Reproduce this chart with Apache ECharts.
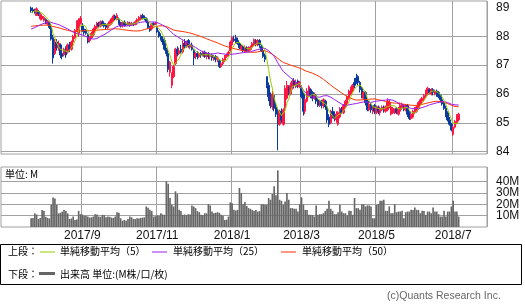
<!DOCTYPE html>
<html><head><meta charset="utf-8">
<script src="https://cdn.jsdelivr.net/npm/echarts/dist/echarts.min.js"></script>
<style>html,body{margin:0;padding:0;background:#fff;}#c{width:525px;height:308px;}</style>
</head><body><div id="c"></div>
<script>
// trading calendar (TSE)
const firstTradeDate = '2017-06-29';
const lastTradeDate = '2018-07-27';
const holidays = ['2017-07-17','2017-08-11','2017-09-18','2017-10-09','2017-11-03','2017-11-23',
  '2018-01-01','2018-01-02','2018-01-03','2018-01-08','2018-02-12','2018-03-21','2018-04-30',
  '2018-05-03','2018-05-04','2018-07-16'];
const dataStartDate = '2017-07-24';
const tickLabels = ['2017/9','2017/11','2018/1','2018/3','2018/5','2018/7'];
const priceLabels = [84,85,86,87,88,89];
const priceGridLines = [84,85,86,87,88];
const volumeTicks = [10,20,30,40];

// closes before the first visible day (used only for the moving averages)
const priorCloses = [88.5,88.55,88.6,88.5,88.45,88.4,88.5,88.55,88.6,88.65,
  88.55,88.5,88.45,88.4,88.35,88.4,88.45,88.4,88.35,88.3,88.35,88.4,88.35,88.3,88.25,
  88.2,88.15,88.1,88.05,88.0,87.95,88.0,88.05,88.1,88.05,88.0,88.05,88.1,88.15,88.1,
  88.15,88.2,88.2,88.25,88.3,88.55,88.75,88.9,88.95];

const opens = [
88.98,88.92,88.9,88.72,88.85,88.6,88.6,88.55,88.58,88.42,
88.45,88.3,87.95,87.4,87.8,87.6,87.7,87.4,87.35,87.6,
87.45,87.7,87.55,87.8,87.95,88.2,88.1,88.45,88.35,88.25,
88.2,88.05,87.85,87.95,88.05,88.2,88.3,88.45,88.35,88.5,
88.45,88.4,88.3,88.38,88.45,88.55,88.7,88.58,88.6,88.45,
88.35,88.48,88.45,88.38,88.45,88.38,88.42,88.4,88.5,88.55,
88.6,88.72,88.65,88.6,88.5,88.3,88.25,88.45,88.42,88.3,
88.15,88.0,87.9,87.85,87.55,87.4,86.75,86.3,86.6,87.05,
87.55,87.4,87.55,87.45,87.75,87.7,87.85,87.62,87.7,87.5,
87.3,87.4,87.3,87.4,87.35,87.45,87.3,87.4,87.3,87.35,
87.25,87.3,87.2,87.15,86.95,87.05,87.15,87.3,87.35,87.5,
87.7,87.9,87.95,87.85,87.75,87.55,87.65,87.5,87.6,87.5,
87.55,87.62,87.7,87.85,87.7,87.85,87.65,87.5,87.35,86.6,
86.3,85.9,85.55,85.95,85.55,85.35,84.95,85.4,84.95,85.5,
85.85,86.25,86.0,86.2,86.45,86.25,86.45,86.25,86.2,86.0,
85.4,85.75,85.95,86.15,86.05,85.85,85.95,85.8,85.6,85.75,
85.6,85.75,85.55,85.2,85.0,85.4,85.3,85.1,84.95,85.2,
85.45,85.35,85.55,85.65,85.85,86.0,86.1,86.4,86.55,86.6,
86.4,86.2,85.85,86.05,85.75,85.45,85.65,85.4,85.6,85.35,
85.55,85.35,85.45,85.55,85.4,85.45,85.55,85.3,85.35,85.35,
85.5,85.3,85.4,85.5,85.6,85.45,85.6,85.35,85.15,85.2,
85.35,85.4,85.5,85.65,85.75,85.8,85.9,86.0,86.15,86.0,
86.15,86.0,86.1,86.05,85.95,85.8,85.7,85.5,85.35,85.1,
84.95,84.6,84.85,85.0,85.1];
const closes = [
88.88,88.85,88.82,88.95,88.78,88.75,88.7,88.65,88.5,88.52,
88.3,87.9,87.25,87.75,87.6,87.75,87.35,87.3,87.55,87.35,
87.7,87.55,87.8,88.0,88.2,88.45,88.55,88.62,88.2,88.12,
88.1,87.8,87.95,88.1,88.25,88.35,88.45,88.35,88.5,88.4,
88.35,88.3,88.4,88.5,88.6,88.7,88.6,88.72,88.45,88.35,
88.48,88.38,88.4,88.48,88.38,88.45,88.4,88.5,88.58,88.65,
88.7,88.62,88.6,88.5,88.3,88.2,88.4,88.4,88.45,88.15,
88.0,87.9,87.8,87.55,87.4,86.85,87.1,86.7,86.95,87.55,
87.4,87.5,87.45,87.75,87.65,87.8,87.65,87.7,87.55,87.25,
87.4,87.3,87.4,87.35,87.45,87.3,87.4,87.3,87.35,87.25,
87.3,87.2,87.25,86.95,87.05,87.2,87.3,87.35,87.45,87.8,
87.95,87.85,87.8,87.75,87.6,87.65,87.5,87.6,87.5,87.6,
87.62,87.75,87.88,87.75,87.85,87.7,87.5,87.3,87.2,86.3,
85.9,85.6,86.0,85.5,85.3,84.95,85.4,85.1,85.45,86.2,
86.3,86.05,86.3,86.45,86.3,86.4,86.3,86.4,85.9,85.4,
85.8,86.1,86.25,85.95,85.85,85.95,85.75,85.6,85.75,85.6,
85.8,85.55,85.1,84.95,85.35,85.25,85.15,85.3,85.35,85.5,
85.35,85.6,85.75,85.9,86.1,86.2,86.3,86.3,86.4,86.4,
86.15,85.95,86.05,85.7,85.45,85.65,85.45,85.55,85.4,85.55,
85.4,85.5,85.55,85.45,85.55,85.75,85.7,85.55,85.5,85.45,
85.35,85.5,85.6,85.65,85.5,85.6,85.3,85.15,85.3,85.4,
85.5,85.55,85.7,85.8,85.85,85.95,86.1,86.2,86.05,86.15,
86.05,86.1,86.0,85.9,85.8,85.65,85.5,85.3,85.1,84.95,
84.75,84.85,85.05,85.25,85.3];
const lows = [
88.82,88.8,88.78,88.7,88.7,88.55,88.55,88.5,88.42,88.38,
88.25,87.85,87.05,87.35,87.5,87.5,87.25,87.2,87.3,87.25,
87.4,87.45,87.5,87.75,87.9,88.15,87.98,88.4,88.15,88.05,
88.05,87.75,87.78,87.9,88.0,88.15,88.25,88.3,88.3,88.35,
88.3,88.25,88.25,88.35,88.4,88.5,88.55,88.55,88.4,88.3,
88.3,88.33,88.35,88.35,88.33,88.35,88.35,88.38,88.45,88.5,
88.55,88.58,88.55,88.45,88.25,88.15,88.2,88.35,88.38,88.1,
87.95,87.85,87.7,87.5,87.3,86.75,86.6,86.2,86.55,87.0,
87.3,87.35,87.4,87.4,87.55,87.6,87.6,87.55,87.5,87.0,
87.2,87.2,87.25,87.25,87.3,87.25,87.2,87.2,87.2,87.15,
87.15,87.1,87.1,86.9,86.9,87.0,87.1,87.25,87.3,87.45,
87.65,87.8,87.75,87.7,87.55,87.5,87.45,87.45,87.45,87.45,
87.5,87.55,87.65,87.65,87.65,87.6,87.45,87.25,87.1,86.2,
85.75,85.5,85.45,85.4,85.2,84.05,84.9,85.0,84.9,85.45,
85.8,85.95,85.95,86.15,86.2,86.2,86.2,86.2,85.85,85.25,
85.3,85.7,85.9,85.85,85.75,85.8,85.65,85.55,85.55,85.5,
85.5,85.45,85.0,84.85,84.95,85.15,85.05,85.0,84.9,85.15,
85.3,85.3,85.5,85.6,85.8,85.95,86.05,86.2,86.35,86.3,
86.05,85.85,85.8,85.6,85.4,85.4,85.35,85.3,85.3,85.3,
85.3,85.25,85.4,85.35,85.35,85.4,85.5,85.25,85.3,85.3,
85.3,85.25,85.35,85.45,85.4,85.4,85.2,85.1,85.1,85.15,
85.3,85.35,85.45,85.6,85.7,85.75,85.85,85.95,86.0,85.95,
85.95,85.95,85.9,85.85,85.7,85.6,85.45,85.2,85.05,84.9,
84.7,84.55,84.8,84.95,85.05];
const highs = [
89.03,89.0,88.95,89.0,88.9,88.8,88.75,88.7,88.62,88.56,
88.5,88.35,88.05,87.9,87.9,87.85,87.75,87.5,87.6,87.65,
87.75,87.8,87.85,88.05,88.25,88.55,88.62,88.7,88.45,88.3,
88.25,88.1,88.0,88.15,88.3,88.4,88.5,88.5,88.55,88.55,
88.5,88.45,88.45,88.55,88.65,88.75,88.75,88.8,88.65,88.5,
88.52,88.55,88.5,88.52,88.5,88.5,88.48,88.55,88.62,88.7,
88.75,88.78,88.72,88.65,88.55,88.35,88.45,88.48,88.5,88.35,
88.2,88.1,88.0,87.95,87.6,87.45,87.15,86.75,87.0,87.6,
87.65,87.6,87.7,87.85,87.9,87.85,87.9,87.75,87.78,87.55,
87.45,87.48,87.45,87.45,87.5,87.5,87.45,87.45,87.4,87.4,
87.35,87.35,87.3,87.2,87.1,87.25,87.35,87.4,87.5,87.85,
88.0,88.02,88.05,87.95,87.8,87.7,87.7,87.68,87.65,87.65,
87.68,87.8,87.92,87.9,87.9,87.9,87.7,87.55,87.4,86.6,
86.4,86.05,86.1,86.0,85.7,85.5,85.45,85.5,85.5,86.3,
86.45,86.3,86.4,86.5,86.55,86.5,86.5,86.45,86.3,86.05,
85.85,86.2,86.3,86.2,86.1,86.05,86.0,85.85,85.8,85.8,
85.85,85.8,85.6,85.3,85.45,85.55,85.4,85.4,85.4,85.55,
85.55,85.65,85.8,85.95,86.15,86.25,86.35,86.55,86.7,86.65,
86.45,86.25,86.1,86.1,85.8,85.7,85.7,85.6,85.65,85.6,
85.6,85.55,85.6,85.6,85.6,85.85,85.8,85.6,85.55,85.5,
85.55,85.55,85.7,85.7,85.65,85.65,85.65,85.4,85.35,85.45,
85.55,85.6,85.75,85.85,85.9,86.0,86.15,86.25,86.2,86.2,
86.2,86.15,86.15,86.1,86.0,85.85,85.75,85.6,85.4,85.2,
85.0,84.9,85.1,85.3,85.35];
// volume, millions
const volumes = [
7.7,8,12,11,7,8,15,14,9,8,
7.5,19.5,26,25,19.5,12,12.5,13.5,15,14,
12,7,7.5,9.2,6.2,6.5,14.2,11.3,11,10,
10,9.2,8.3,8.5,9.2,11.3,11,9.2,9,10.7,
10.5,8.6,9.2,9,8.3,8,9.2,13,12.5,7.7,
5.5,6.2,5.5,7.1,9.2,8.5,7.1,7,7.7,7.5,
8,8.3,8.5,18.1,17,15.1,14,9.2,9.5,10.1,
10,12.1,11,10.7,40.3,38,25.5,19.6,18,31.4,
29,15.1,14,10.7,11,10.5,11.3,11,19,18,
16.6,14,13,10.7,10.5,12.1,12,20.1,19,13.6,
12.1,12.5,13,12.5,10.7,10,6.2,6.5,9.2,21.6,
21,15.1,14.5,15.1,34.4,30,20.1,22,18.5,16.6,
16,15,14,15,13.5,14,20,20.1,19.6,19.5,
25.5,24,29,35.8,28,49.8,24,23,19.6,22.5,
29.9,24,16.6,16.6,16,16,13.6,20.1,26.1,19.6,
15.1,15,10.7,10.7,10.5,9.2,19,10.7,11.3,11.3,
12.1,14.2,16,23.1,16,14.2,11.3,11.3,13,19.6,
13.6,12.1,12.1,10.1,14.2,14,10.7,25.5,16.6,16.6,
15.1,20.1,20,18.1,19,19,18.1,7.7,7.7,19.6,
20.1,23.1,23,24,14.2,14.2,18.1,12.1,12,20.1,
13,13.6,13.6,14.2,7.7,13,13.6,13.6,15.1,15,
17.2,15.1,15,12.1,14.2,14,10.7,13.6,13.6,12.1,
17.2,13.6,13.6,11.3,9.2,9.2,14.2,9.2,13.6,13.6,
18.1,23.1,13.6,13.6,9.2];
const maPeriods = [5,25,50];

// ---- build ----
const categories = [];
for (let d = new Date(firstTradeDate + 'T00:00:00Z'); d <= new Date(lastTradeDate + 'T00:00:00Z'); d.setUTCDate(d.getUTCDate() + 1)) {
  const wd = d.getUTCDay();
  const s = d.toISOString().slice(0, 10);
  if (wd === 0 || wd === 6 || holidays.indexOf(s) >= 0) continue;
  categories.push(s);
}
const padStart = categories.indexOf(dataStartDate);
const padEnd = categories.length - padStart - opens.length;
const pad = arr => new Array(padStart).fill('-').concat(arr, new Array(Math.max(0, padEnd)).fill('-'));

const tickIdx = new Map();
tickLabels.forEach(lab => {
  const [y, m] = lab.split('/').map(Number);
  const i = categories.findIndex(c => +c.slice(0, 4) === y && +c.slice(5, 7) === m);
  if (i >= 0) tickIdx.set(i, lab);
});

const allCloses = priorCloses.concat(closes);
function sma(n) {
  return closes.map((_, k) => {
    const e = k + priorCloses.length;
    let s = 0;
    for (let j = e - n + 1; j <= e; j++) s += allCloses[j];
    return +(s / n).toFixed(4);
  });
}
const candles = opens.map((o, k) => [o, closes[k], lows[k], highs[k]]);

const maColors = ['#99cc00', '#9a1cf0', '#ff3300'];
const gridColor = '#a0a0a0';
const labelFont = 'Liberation Sans, Arial, sans-serif';
const jpFont = 'Noto Sans CJK JP';
const volMax = 52.8;

const chart = echarts.init(document.getElementById('c'), null, {renderer: 'canvas'});
const catAxisBase = {
  type: 'category', data: categories, boundaryGap: true,
  axisLine: {show: false}, axisTick: {show: false},
  splitLine: {show: true, interval: (i) => tickIdx.has(i), lineStyle: {color: gridColor, width: 1}}
};
// volume labels split over two overlaid axes so that neighbouring labels are never auto-hidden
const volLabelSets = [volumeTicks.filter((_, i) => i % 2 === 0), volumeTicks.filter((_, i) => i % 2 === 1)];
const volAxis = (labels, withGrid) => ({
  type: 'value', gridIndex: 1, position: 'right', min: 0, max: volMax,
  axisLine: {show: false}, axisTick: {show: false, customValues: withGrid ? volumeTicks : labels},
  axisLabel: {customValues: labels, formatter: '{value}M', margin: 9, fontSize: 12,
    color: '#111', fontFamily: labelFont, hideOverlap: false},
  splitLine: {show: withGrid, lineStyle: {color: gridColor, width: 1}}
});
const option = {
  animation: false,
  backgroundColor: '#fff',
  grid: [
    {left: 1, top: 1, width: 486, height: 153, show: true, borderColor: gridColor, borderWidth: 1},
    {left: 1, top: 167, width: 486, height: 60, show: true, borderColor: gridColor, borderWidth: 1}
  ],
  xAxis: [
    Object.assign({}, catAxisBase, {gridIndex: 0, axisLabel: {show: false}}),
    Object.assign({}, catAxisBase, {gridIndex: 1, axisLabel: {
      show: true, interval: (i) => tickIdx.has(i), formatter: (v, i) => tickIdx.get(i) || '',
      margin: 3, fontSize: 12, color: '#111', fontFamily: labelFont}})
  ],
  yAxis: [
    {type: 'value', gridIndex: 0, position: 'right', min: 83.92, max: 89.22, scale: true,
     axisLine: {show: false}, axisTick: {show: false, customValues: priceGridLines},
     axisLabel: {customValues: priceLabels, margin: 9, fontSize: 12, color: '#111', fontFamily: labelFont, hideOverlap: false},
     splitLine: {show: true, lineStyle: {color: gridColor, width: 1}}},
    volAxis(volLabelSets[0], true),
    volAxis(volLabelSets[1], false)
  ],
  series: [
    {type: 'candlestick', xAxisIndex: 0, yAxisIndex: 0, data: pad(candles), barWidth: 2,
     itemStyle: {color: '#ff1744', color0: '#0a3aa0', borderColor: '#ff1744', borderColor0: '#0a3aa0', borderWidth: 1}},
    ...maPeriods.map((n, i) => ({
      type: 'line', xAxisIndex: 0, yAxisIndex: 0, data: pad(sma(n)), showSymbol: false, symbol: 'none',
      lineStyle: {color: maColors[i], width: 1}, z: 3 + (2 - i)
    })),
    {type: 'bar', xAxisIndex: 1, yAxisIndex: 1, data: pad(volumes), barCategoryGap: '10%',
     itemStyle: {color: '#666666'}}
  ],
  graphic: [
    {type: 'text', x: 5, y: 174, style: {text: '単位: M', fill: '#000', font: '10px "' + jpFont + '"', verticalAlign: 'middle'}},
    {type: 'rect', shape: {x: 0.5, y: 244.5, width: 521, height: 40}, style: {fill: 'none', stroke: '#000', lineWidth: 1}},
    {type: 'text', x: 8, y: 251.5, style: {text: '上段：', fill: '#000', font: '10px "' + jpFont + '"', verticalAlign: 'middle'}},
    {type: 'line', shape: {x1: 40, y1: 252, x2: 55, y2: 252}, style: {stroke: maColors[0], lineWidth: 1}},
    {type: 'text', x: 60, y: 251.5, style: {text: '単純移動平均（5）', fill: '#000', font: '10px "' + jpFont + '"', verticalAlign: 'middle'}},
    {type: 'line', shape: {x1: 152, y1: 252, x2: 167, y2: 252}, style: {stroke: maColors[1], lineWidth: 1}},
    {type: 'text', x: 173, y: 251.5, style: {text: '単純移動平均（25）', fill: '#000', font: '10px "' + jpFont + '"', verticalAlign: 'middle'}},
    {type: 'line', shape: {x1: 281, y1: 252, x2: 296, y2: 252}, style: {stroke: maColors[2], lineWidth: 1}},
    {type: 'text', x: 302, y: 251.5, style: {text: '単純移動平均（50）', fill: '#000', font: '10px "' + jpFont + '"', verticalAlign: 'middle'}},
    {type: 'text', x: 8, y: 274, style: {text: '下段：', fill: '#000', font: '10px "' + jpFont + '"', verticalAlign: 'middle'}},
    {type: 'line', shape: {x1: 39, y1: 273.5, x2: 55, y2: 273.5}, style: {stroke: '#666', lineWidth: 3}},
    {type: 'text', x: 60, y: 274, style: {text: '出来高 単位:(M株/口/枚)', fill: '#000', font: '10px "' + jpFont + '"', verticalAlign: 'middle'}},
    {type: 'text', x: 387, y: 296, style: {text: '(c)Quants Research Inc.', fill: '#666', font: '10.5px "Liberation Sans"', verticalAlign: 'middle'}}
  ]
};
chart.setOption(option);
</script></body></html>
